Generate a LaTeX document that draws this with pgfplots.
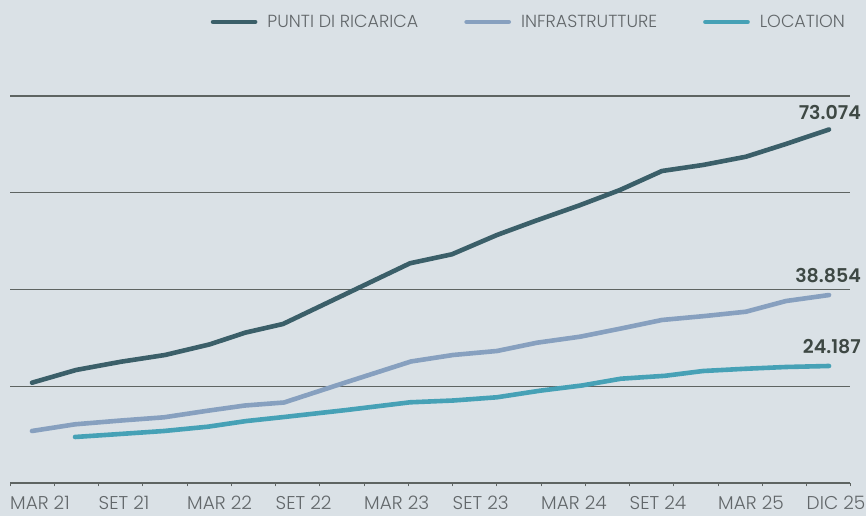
\documentclass[border=0pt]{standalone}
\usepackage{fontspec}
\setmainfont{Poppins}[UprightFont=* Light, BoldFont=* SemiBold]
\usepackage{pgfplots}
\pgfplotsset{compat=1.18}

\definecolor{BgColor}{HTML}{DAE1E6}
\definecolor{PuntiColor}{HTML}{3B5F69}
\definecolor{InfraColor}{HTML}{87A0BF}
\definecolor{LocColor}{HTML}{46A1B6}
\definecolor{GridColor}{HTML}{5E6462}
\definecolor{TextColor}{HTML}{62676A}
\definecolor{LabelColor}{HTML}{3E4844}

\begin{document}
\begin{tikzpicture}
    % page = 866 x 516, plot box 840 x 387 placed at (0,0)
    \fill[BgColor] (-10pt,-33pt) rectangle (856pt,483pt);
    \useasboundingbox (-10pt,-33pt) rectangle (856pt,483pt);

    \begin{axis}[
        at={(0pt,0pt)},
        anchor=south west,
        scale only axis,
        width=840pt,
        height=387pt,
        xmin=10, xmax=850,
        ymin=0, ymax=80,
        clip=false,
        separate axis lines,
        axis x line*=bottom,
        axis y line*=left,
        y axis line style={draw=none},
        x axis line style={GridColor, line width=1.2pt},
        xtick={10,98.5,187,275.5,364,452.5,541,629.5,718,806.5},
        xticklabels={MAR 21,SET 21,MAR 22,SET 22,MAR 23,SET 23,MAR 24,SET 24,MAR 25,DIC 25},
        minor x tick num=1,
        extra x ticks={850},
        extra x tick labels={},
        tick align=outside,
        major tick length=3.5pt,
        minor tick length=3.5pt,
        xtick style={GridColor, line width=1pt},
        xticklabel style={
            anchor=north west,
            inner sep=0pt,
            text=TextColor,
            font=\fontsize{18.5}{21}\selectfont,
            yshift=-9.5pt
        },
        ytick={20,40,60,80},
        yticklabels={},
        ytick style={draw=none},
        ymajorgrids=true,
        grid style={GridColor, line width=1.1pt},
        legend columns=3,
        legend image code/.code={
            \draw[line width=4.7pt] (0pt,0pt) -- (42pt,0pt);
        },
        legend style={
            draw=none,
            fill=none,
            inner sep=0pt,
            text=TextColor,
            font=\fontsize{17.5}{20}\selectfont,
            at={(0.99405,1.1913)},
            anchor=east,
            nodes={inner sep=0pt},
            /tikz/every odd column/.append style={column sep=10pt},
            /tikz/every even column/.append style={column sep=46pt}
        }
    ]

    % Punti di ricarica (thousands)
    \addplot[color=PuntiColor, line width=4.6pt, line cap=round, line join=round]
    coordinates {
        (32,20.73) (76,23.36) (121,25.07) (165,26.46) (210,28.67)
        (245,31.07) (283,32.87) (347,39.19) (410,45.42) (452,47.28)
        (497,51.27) (535,54.16) (579,57.36) (620,60.57) (662,64.50)
        (703,65.74) (746,67.45) (785,70.02) (829,73.074)
    };
    \addlegendentry{PUNTI DI RICARICA}

    % Infrastrutture
    \addplot[color=InfraColor, line width=4.6pt, line cap=round, line join=round]
    coordinates {
        (32,10.75) (75,12.13) (120,12.90) (164,13.58) (208,14.95)
        (245,16.02) (284,16.64) (347,20.88) (411,25.12) (453,26.46)
        (497,27.29) (537,29.00) (580,30.24) (622,31.98) (662,33.70)
        (705,34.52) (746,35.41) (786,37.62) (829,38.854)
    };
    \addlegendentry{INFRASTRUTTURE}

    % Location
    \addplot[color=LocColor, line width=4.6pt, line cap=round, line join=round]
    coordinates {
        (75,9.51) (120,10.13) (164,10.75) (208,11.64) (246,12.80)
        (284,13.64) (347,15.10) (410,16.68) (453,17.05) (497,17.72)
        (540,19.08) (582,20.16) (621,21.56) (665,22.16) (703,23.15)
        (745,23.61) (786,23.98) (829,24.187)
    };
    \addlegendentry{LOCATION}

    % end-of-line values
    \node[anchor=base east, inner sep=0pt, text=LabelColor,
          font=\bfseries\fontsize{19}{22}\selectfont,
          xshift=32pt, yshift=9.5pt] at (axis cs:829,73.074) {73.074};
    \node[anchor=base east, inner sep=0pt, text=LabelColor,
          font=\bfseries\fontsize{19}{22}\selectfont,
          xshift=32pt, yshift=12.5pt] at (axis cs:829,38.854) {38.854};
    \node[anchor=base east, inner sep=0pt, text=LabelColor,
          font=\bfseries\fontsize{19}{22}\selectfont,
          xshift=32pt, yshift=12.5pt] at (axis cs:829,24.187) {24.187};

    \end{axis}
\end{tikzpicture}
\end{document}
